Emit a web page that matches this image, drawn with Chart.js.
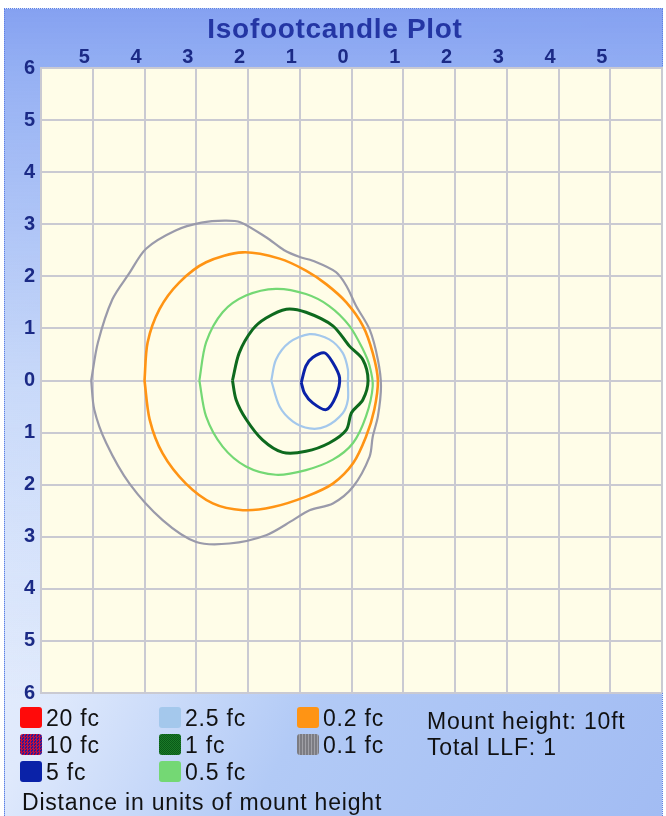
<!DOCTYPE html>
<html>
<head>
<meta charset="utf-8">
<script src="https://cdn.jsdelivr.net/npm/chart.js@4.4.1/dist/chart.umd.min.js"></script>
<style>
  html, body { margin: 0; padding: 0; background: #ffffff; }
  #wrap { position: relative; width: 666px; height: 816px; overflow: hidden; }
  #panel {
    position: absolute; left: 4px; top: 8px; width: 657px; height: 810px;
    border: 1px dotted #5f80e4;
    background:
      linear-gradient(to bottom, rgba(133,161,241,1) 0px, rgba(146,174,243,0.95) 70px, rgba(180,203,247,0.6) 380px, rgba(200,215,248,0) 690px),
      linear-gradient(118deg, #f2f6fe 0%, #dfe9fc 38%, #b2caf6 62%, #a2bcf3 100%);
  }
  #c { position: absolute; left: 0; top: 0; }
  #title { position: absolute; left: 0; width: 670px; top: 12px; text-align: center; line-height: 34px;
    font-family: "Liberation Sans", Arial, sans-serif; font-weight: bold; font-size: 28px; letter-spacing: 0.7px; color: #2436a4; }
  .sw { position: absolute; width: 22px; height: 21px; border-radius: 3px; }
  .lg { position: absolute; font-family: "Liberation Sans", Arial, sans-serif; font-size: 23px; letter-spacing: 0.8px;
    color: #111; white-space: nowrap; line-height: 26px; }
</style>
</head>
<body>
<div id="wrap">
  <div id="panel"></div>
  <canvas id="c" width="666" height="816"></canvas>
  <div id="title">Isofootcandle Plot</div>
  <div id="legend"></div>
</div>
<script>
// ---- data (units of mount height) ----
const levelLabels = ["20 fc", "10 fc", "5 fc", "2.5 fc", "1 fc", "0.5 fc", "0.2 fc", "0.1 fc"];
const levelColors = ["#ff0a0a", "#7a1a6a", "#0a22a8", "#a4c8ec", "#0e6a1e", "#74d874", "#ff9414", "#9a9aaa"];
const axisTicks = [-6, -5, -4, -3, -2, -1, 0, 1, 2, 3, 4, 5, 6];
const infoLines = ["Mount height: 10ft", "Total LLF: 1"];
const footNote = "Distance in units of mount height";

const contour01 = [
  [-5.03, 0.00], [-4.90, 0.73], [-4.62, 1.56], [-4.30, 2.05], [-3.97, 2.53], [-3.40, 2.88], [-2.90, 3.03],
  [-2.45, 3.07], [-2.15, 3.04], [-1.65, 2.75], [-1.30, 2.50], [-1.00, 2.37], [-0.75, 2.30], [-0.30, 2.08],
  [-0.10, 1.82], [0.09, 1.43], [0.35, 0.98], [0.51, 0.40], [0.57, -0.11], [0.51, -0.69], [0.41, -1.08],
  [0.35, -1.46], [0.03, -2.04], [-0.36, -2.36], [-0.81, -2.49], [-1.13, -2.68], [-1.65, -2.97],
  [-2.36, -3.13], [-3.00, -3.10], [-3.65, -2.68], [-4.29, -1.98], [-4.74, -1.20], [-4.97, -0.56], [-5.03, 0.00]
];
const contour02 = [
  [-4.00, 0.00], [-3.94, 0.73], [-3.71, 1.37], [-3.33, 1.88], [-2.81, 2.27], [-2.10, 2.46], [-1.39, 2.34],
  [-0.88, 2.11], [-0.49, 1.85], [-0.10, 1.50], [0.22, 1.05], [0.41, 0.53], [0.51, 0.00], [0.44, -0.56],
  [0.28, -1.08], [0.03, -1.59], [-0.36, -1.98], [-0.88, -2.23], [-1.52, -2.43], [-2.10, -2.49],
  [-2.68, -2.36], [-3.20, -1.98], [-3.65, -1.40], [-3.90, -0.75], [-4.00, 0.00]
];
const contour05 = [
  [-2.94, 0.00], [-2.81, 0.73], [-2.49, 1.31], [-2.04, 1.63], [-1.46, 1.76], [-0.88, 1.66], [-0.43, 1.43],
  [-0.04, 1.05], [0.22, 0.60], [0.35, 0.28], [0.41, -0.11], [0.28, -0.69], [0.03, -1.20], [-0.36, -1.52],
  [-0.88, -1.72], [-1.46, -1.81], [-2.04, -1.65], [-2.49, -1.27], [-2.81, -0.69], [-2.94, 0.00]
];
const contour1 = [
  [-2.30, 0.00], [-2.17, 0.53], [-1.91, 0.98], [-1.65, 1.20], [-1.26, 1.37], [-0.88, 1.31], [-0.36, 1.05],
  [-0.04, 0.66], [0.22, 0.40], [0.32, 0.00], [0.22, -0.37], [0.00, -0.62], [-0.10, -0.95], [-0.43, -1.20],
  [-0.88, -1.36], [-1.33, -1.38], [-1.72, -1.14], [-2.04, -0.74], [-2.23, -0.37], [-2.30, 0.00]
];
const contour25 = [
  [-1.55, 0.00], [-1.46, 0.40], [-1.20, 0.73], [-0.81, 0.89], [-0.43, 0.79], [-0.17, 0.53], [-0.07, 0.21],
  [-0.07, -0.04], [-0.07, -0.37], [-0.17, -0.63], [-0.49, -0.88], [-0.81, -0.92], [-1.13, -0.79],
  [-1.39, -0.50], [-1.55, 0.00]
];
const contour5 = [
  [-0.97, -0.04], [-0.88, 0.28], [-0.75, 0.44], [-0.52, 0.53], [-0.36, 0.34], [-0.23, 0.05], [-0.30, -0.30],
  [-0.49, -0.56], [-0.75, -0.43], [-0.91, -0.24], [-0.97, -0.04]
];

// ---- legend (HTML text) ----
const legend = document.getElementById('legend');
const cols = [[20, 46], [159, 185], [297, 323]];
const rowsY = [707, 734, 761];
const swatchBg = [
  levelColors[0],
  "repeating-conic-gradient(#c8103a 0% 25%, #2a1a9a 0% 50%) 0 0/3px 3px",
  levelColors[2], levelColors[3],
  "repeating-conic-gradient(#0a5a18 0% 25%, #1a7a28 0% 50%) 0 0/2px 2px",
  levelColors[5], levelColors[6],
  "repeating-linear-gradient(90deg, #7c7c82 0 2px, #a0a0a6 2px 3px)"
];
levelLabels.forEach((lab, i) => {
  const c = Math.floor(i / 3), r = i % 3;
  const sw = document.createElement('div');
  sw.className = 'sw';
  sw.style.left = cols[c][0] + 'px'; sw.style.top = rowsY[r] + 'px';
  sw.style.background = swatchBg[i];
  legend.appendChild(sw);
  const tx = document.createElement('div');
  tx.className = 'lg';
  tx.style.left = cols[c][1] + 'px'; tx.style.top = (rowsY[r] - 2) + 'px';
  tx.textContent = lab;
  legend.appendChild(tx);
});
infoLines.forEach((s, i) => {
  const tx = document.createElement('div');
  tx.className = 'lg';
  tx.style.left = '427px'; tx.style.top = (708 + i * 26) + 'px';
  tx.textContent = s;
  legend.appendChild(tx);
});
const fn = document.createElement('div');
fn.className = 'lg'; fn.style.left = '22px'; fn.style.top = '789px';
fn.textContent = footNote;
legend.appendChild(fn);

// ---- chart ----
const toPts = a => a.map(p => ({ x: p[0], y: p[1] }));
const series = [
  { data: contour01, color: levelColors[7], w: 2.2 },
  { data: contour02, color: levelColors[6], w: 2.6 },
  { data: contour05, color: levelColors[5], w: 2.2 },
  { data: contour1, color: levelColors[4], w: 3 },
  { data: contour25, color: levelColors[3], w: 2.2 },
  { data: contour5, color: levelColors[2], w: 3 }
];

const plotBg = {
  id: 'plotBg',
  beforeDraw(chart) {
    const { ctx, chartArea: a } = chart;
    ctx.save();
    ctx.fillStyle = '#fffde8';
    ctx.fillRect(a.left, a.top, a.right - a.left, a.bottom - a.top);
    ctx.restore();
  }
};

const gridColor = '#cacad2';
const tickFont = { family: '"Liberation Sans", Arial, sans-serif', size: 20, weight: 'bold', lineHeight: 1 };

new Chart(document.getElementById('c'), {
  type: 'scatter',
  data: {
    datasets: series.map(s => ({
      data: toPts(s.data),
      showLine: true,
      borderColor: s.color,
      borderWidth: s.w,
      pointRadius: 0,
      tension: 0.3,
      fill: false
    }))
  },
  options: {
    responsive: false,
    devicePixelRatio: 1,
    animation: false,
    layout: { padding: { left: 0, top: 0, right: 4, bottom: 123 } },
    plugins: { legend: { display: false }, title: { display: false }, tooltip: { enabled: false } },
    scales: {
      x: {
        type: 'linear', position: 'top', min: -6, max: 6,
        afterFit: s => { s.height = 68; },
        afterBuildTicks: s => { s.ticks = axisTicks.map(v => ({ value: v })); },
        grid: { color: gridColor, lineWidth: 2, drawTicks: false },
        border: { color: gridColor, width: 2 },
        ticks: {
          padding: 1, labelOffset: -8.5, color: '#1b2a86', font: tickFont,
          maxRotation: 0, autoSkip: false,
          callback: v => (Math.abs(v) === 6 ? '' : String(Math.abs(v)))
        }
      },
      y: {
        type: 'linear', position: 'left', min: -6, max: 6,
        afterFit: s => { s.width = 41; },
        afterBuildTicks: s => { s.ticks = axisTicks.map(v => ({ value: v })); },
        grid: { color: gridColor, lineWidth: 2, drawTicks: false },
        border: { color: gridColor, width: 2 },
        ticks: {
          padding: 6, color: '#1b2a86', font: tickFont, autoSkip: false,
          callback: v => String(Math.abs(v))
        }
      }
    }
  },
  plugins: [plotBg]
});
</script>
</body>
</html>
